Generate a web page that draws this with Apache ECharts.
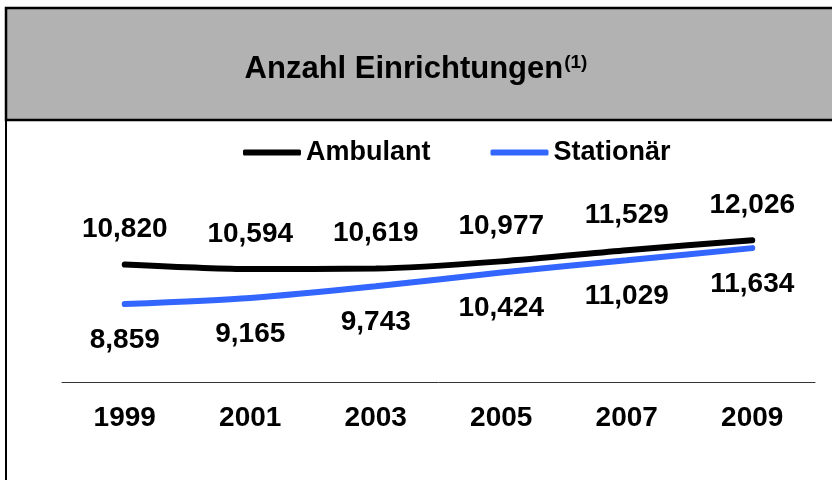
<!DOCTYPE html>
<html>
<head>
<meta charset="utf-8">
<title>Anzahl Einrichtungen</title>
<script src="https://cdn.jsdelivr.net/npm/echarts@6/dist/echarts.min.js"></script>
<style>
	html, body { margin: 0; padding: 0; background: #fff; }
	#chart { width: 832px; height: 480px; }
</style>
</head>
<body>
<div id="chart"></div>
<script>
// 数据
var years = ['1999', '2001', '2003', '2005', '2007', '2009'];
var ambulant = [10820, 10594, 10619, 10977, 11529, 12026];
var stationaer = [8859, 9165, 9743, 10424, 11029, 11634];

var fontFamily = "'Liberation Sans', Arial, sans-serif";

function fmt(p) {
	return p.value.toLocaleString('en-US');
}

var chart = echarts.init(document.getElementById('chart'));
var option = {
	backgroundColor: '#fff',
	animation: false,
	textStyle: { fontFamily: fontFamily },
	// 外框 + 标题区
	graphic: [
		{
			type: 'rect',
			z: -10,
			shape: { x: 6, y: 8, width: 900, height: 600 },
			style: { fill: '#fff', stroke: '#000', lineWidth: 2 }
		},
		{
			type: 'rect',
			z: -9,
			shape: { x: 6, y: 8, width: 900, height: 112 },
			style: { fill: '#b2b2b2', stroke: '#000', lineWidth: 2.5 }
		}
	],
	title: {
		text: '{a|Anzahl Einrichtungen}{s|(1)}',
		left: 'center',
		top: 46,
		textStyle: {
			rich: {
				a: { fontSize: 31, fontWeight: 'bold', color: '#000', fontFamily: fontFamily, lineHeight: 36 },
				s: { fontSize: 19, fontWeight: 'bold', color: '#000', fontFamily: fontFamily, verticalAlign: 'top', lineHeight: 22, padding: [2, 0, 0, 1] }
			}
		}
	},
	legend: {
		left: 238,
		top: 134,
		icon: 'roundRect',
		itemWidth: 58,
		itemHeight: 6,
		itemGap: 60,
		textStyle: { fontSize: 27, fontWeight: 'bold', color: '#000', fontFamily: fontFamily },
		data: ['Ambulant', 'Stationär']
	},
	grid: {
		left: 62,
		right: 17,
		top: 160,
		bottom: 98
	},
	xAxis: {
		type: 'category',
		data: years,
		boundaryGap: true,
		axisLine: { lineStyle: { color: '#333', width: 1 } },
		axisTick: { show: false },
		axisLabel: { fontSize: 28, fontWeight: 'bold', color: '#000', margin: 22, fontFamily: fontFamily }
	},
	yAxis: {
		type: 'value',
		min: 5000,
		max: 16000,
		show: false
	},
	series: [
		{
			name: 'Ambulant',
			type: 'line',
			data: ambulant,
			smooth: 0.25,
			symbol: 'circle',
			symbolSize: 0,
			color: '#000',
			lineStyle: { color: '#000', width: 6, cap: 'round' },
			label: {
				show: true, position: 'top', distance: 21,
				fontSize: 28, fontWeight: 'bold', color: '#000', fontFamily: fontFamily,
				formatter: fmt
			}
		},
		{
			name: 'Stationär',
			type: 'line',
			data: stationaer,
			smooth: 0.25,
			symbol: 'circle',
			symbolSize: 0,
			color: '#3366ff',
			lineStyle: { color: '#3366ff', width: 6, cap: 'round' },
			label: {
				show: true, position: 'bottom', distance: 22,
				fontSize: 28, fontWeight: 'bold', color: '#000', fontFamily: fontFamily,
				formatter: fmt
			}
		}
	]
};
chart.setOption(option);
</script>
</body>
</html>
